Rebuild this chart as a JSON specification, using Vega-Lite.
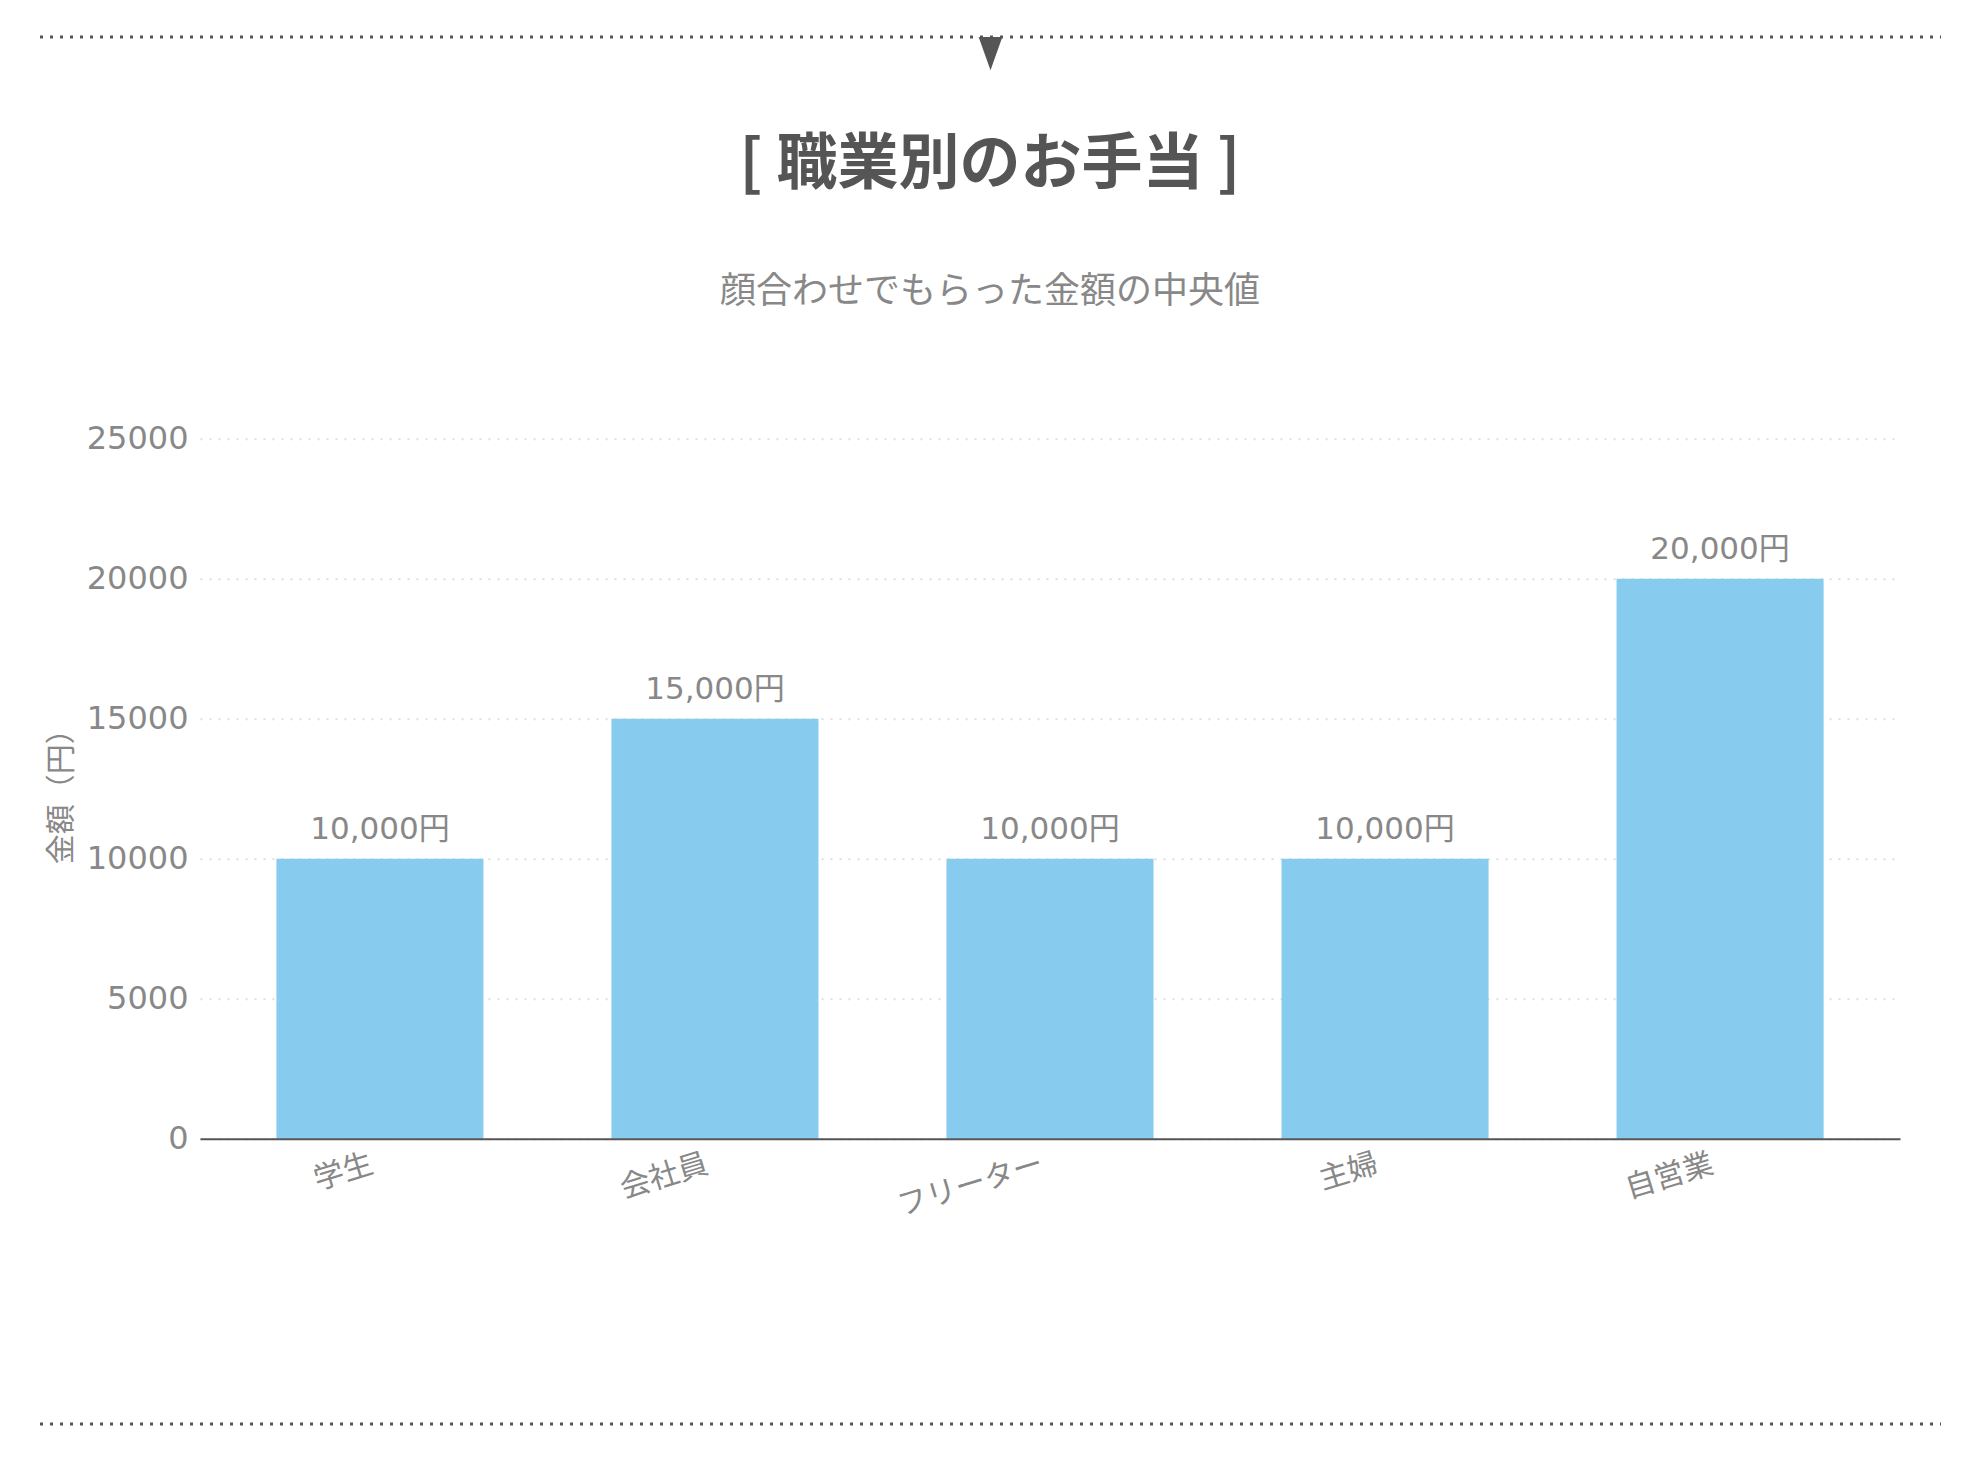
{
  "$schema": "https://vega.github.io/schema/vega-lite/v6.json",
  "background": "white",
  "padding": {"top": 35, "left": 38, "right": 20, "bottom": 10},
  "config": {
    "view": {"stroke": null},
    "font": "Noto Sans CJK JP"
  },
  "spacing": 63.7,
  "vconcat": [
    {
      "width": 1741,
      "height": 1,
      "data": {"values": [{"part": "top"}]},
      "encoding": {
        "y": {"datum": 1, "axis": null, "scale": {"domain": [0, 1]}}
      },
      "layer": [
        {
          "mark": {"type": "rule", "color": "#555555", "strokeWidth": 3, "strokeDash": [3, 7], "strokeCap": "butt"},
          "encoding": {
            "x": {"datum": 0, "axis": null, "scale": {"domain": [0, 1], "range": [-160, 1741]}},
            "x2": {"datum": 1}
          }
        },
        {
          "mark": {"type": "point", "shape": "M-1,0L1,0L0,2.8Z", "size": 560, "filled": true, "color": "#555555", "opacity": 1},
          "encoding": {
            "x": {"datum": 0.5, "axis": null, "scale": {"domain": [0, 1], "range": [-160, 1741]}}
          }
        }
      ]
    },
    {
      "width": 1700,
      "height": 700,
      "data": {
        "values": [
          {"job": "学生", "amount": 10000, "label": "10,000円"},
          {"job": "会社員", "amount": 15000, "label": "15,000円"},
          {"job": "フリーター", "amount": 10000, "label": "10,000円"},
          {"job": "主婦", "amount": 10000, "label": "10,000円"},
          {"job": "自営業", "amount": 20000, "label": "20,000円"}
        ]
      },
      "title": {
        "text": "[ 職業別のお手当 ]",
        "subtitle": "顔合わせでもらった金額の中央値",
        "fontSize": 61,
        "fontWeight": "bold",
        "color": "#555555",
        "subtitleFontSize": 36,
        "subtitleColor": "#888888",
        "subtitleFontWeight": "normal",
        "subtitlePadding": 77.3,
        "offset": 112,
        "anchor": "middle",
        "dx": -60
      },
      "encoding": {
        "x": {
          "field": "job",
          "type": "nominal",
          "sort": null,
          "scale": {"paddingInner": 0.382, "paddingOuter": 0.228},
          "axis": {
            "title": null,
            "labelAngle": -17,
            "labelAlign": "right",
            "labelBaseline": "top",
            "labelFontSize": 30,
            "labelColor": "#888888",
            "labelPadding": 10,
            "labelOffset": -12,
            "ticks": false,
            "domain": true,
            "domainColor": "#555555",
            "domainWidth": 2,
            "grid": false,
            "zindex": 1
          }
        },
        "y": {
          "field": "amount",
          "type": "quantitative",
          "scale": {"domain": [0, 25000]},
          "axis": {
            "title": "金額（円）",
            "values": [0, 5000, 10000, 15000, 20000, 25000],
            "format": "d",
            "labelFont": "DejaVu Sans",
            "labelFontSize": 32,
            "labelColor": "#888888",
            "labelPadding": 12,
            "ticks": false,
            "domain": false,
            "grid": true,
            "gridColor": "#dddddd",
            "gridDash": [2, 7],
            "gridWidth": 2,
            "titleFontSize": 30,
            "titleColor": "#888888",
            "titleFontWeight": "normal",
            "titlePadding": 12,
            "minExtent": 112,
            "maxExtent": 112
          }
        }
      },
      "layer": [
        {"mark": {"type": "bar", "color": "#87cbee"}},
        {
          "mark": {"type": "text", "baseline": "alphabetic", "dy": -20, "fontSize": 31, "font": "DejaVu Sans, Noto Sans CJK JP", "color": "#888888"},
          "encoding": {"text": {"field": "label"}}
        }
      ]
    },
    {
      "width": 1741,
      "height": 138.5,
      "data": {"values": [{"part": "bottom"}]},
      "mark": {"type": "rule", "color": "#555555", "strokeWidth": 3, "strokeDash": [3, 7], "strokeCap": "butt"},
      "encoding": {
        "y": {"datum": 0, "axis": null, "scale": {"domain": [0, 1]}},
        "x": {"datum": 0, "axis": null, "scale": {"domain": [0, 1], "range": [-160, 1741]}},
        "x2": {"datum": 1}
      }
    }
  ]
}
